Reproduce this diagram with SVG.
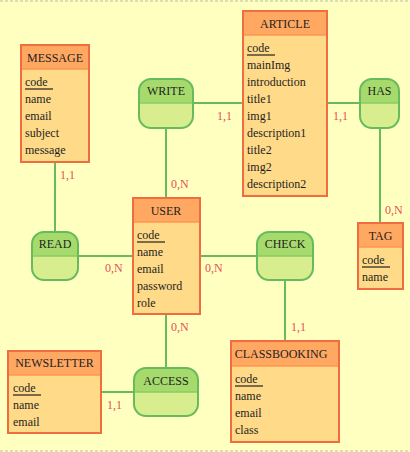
<svg xmlns="http://www.w3.org/2000/svg" width="410" height="452" viewBox="0 0 410 452">
<style>
.bg{fill:#FFFFC0}
.frame{stroke:#BBBBAA;stroke-width:1;stroke-dasharray:3,2;fill:none}
.ebody{fill:#FFDA88}
.ehead{fill:#FFA862}
.esep{stroke:#FF9650;stroke-width:1.5}
.eborder{fill:none;stroke:#F26C42;stroke-width:2}
.rbody{fill:#D8EE8E}
.rhead{fill:#A6DA6C}
.rsep{stroke:#88CC66;stroke-width:1.5}
.rborder{fill:none;stroke:#66BB5C;stroke-width:2}
.conn line{stroke:#66BB5C;stroke-width:2}
.t{font-family:"Liberation Serif","Times New Roman",serif;font-size:12px;fill:#1E1E1E}
.title{text-anchor:middle}
.card{font-family:"Liberation Serif","Times New Roman",serif;font-size:12px;fill:#E6505A}
.ul{stroke:#7A6A4A;stroke-width:2}
</style>
<rect class="bg" x="0" y="0" width="410" height="452"/>
<line class="frame" x1="0" y1="1" x2="410" y2="1"/>
<line class="frame" x1="0" y1="451" x2="410" y2="451"/>

<g id="connectors" class="conn">
<line x1="55" y1="163" x2="55" y2="231"/>
<line x1="166" y1="129" x2="166" y2="197"/>
<line x1="194" y1="103" x2="242" y2="103"/>
<line x1="328" y1="103" x2="359" y2="103"/>
<line x1="380" y1="129" x2="380" y2="222"/>
<line x1="79" y1="256" x2="132" y2="256"/>
<line x1="201" y1="256" x2="256" y2="256"/>
<line x1="285" y1="281" x2="285" y2="340"/>
<line x1="166" y1="315" x2="166" y2="367"/>
<line x1="102" y1="392" x2="133" y2="392"/>
<text class="card" x="60" y="179">1,1</text>
<text class="card" x="171" y="188">0,N</text>
<text class="card" x="217" y="120">1,1</text>
<text class="card" x="333" y="120">1,1</text>
<text class="card" x="385" y="214">0,N</text>
<text class="card" x="105" y="272">0,N</text>
<text class="card" x="205" y="272">0,N</text>
<text class="card" x="291" y="331">1,1</text>
<text class="card" x="171" y="331">0,N</text>
<text class="card" x="107" y="409">1,1</text>
</g>

<g id="MESSAGE">
<rect class="ebody" x="21" y="45" width="68" height="117"/>
<rect class="ehead" x="21" y="45" width="68" height="24"/>
<line class="esep" x1="21" y1="69" x2="89" y2="69"/>
<rect class="eborder" x="21" y="45" width="68" height="117"/>
<text class="t title" x="55" y="62">MESSAGE</text>
<text class="t" x="25" y="86">code </text>
<line class="ul" x1="25" y1="89" x2="53" y2="89"/>
<text class="t" x="25" y="103">name</text>
<text class="t" x="25" y="120">email</text>
<text class="t" x="25" y="137">subject</text>
<text class="t" x="25" y="154">message</text>
</g>

<g id="ARTICLE">
<rect class="ebody" x="243" y="11" width="84" height="185"/>
<rect class="ehead" x="243" y="11" width="84" height="24"/>
<line class="esep" x1="243" y1="35" x2="327" y2="35"/>
<rect class="eborder" x="243" y="11" width="84" height="185"/>
<text class="t title" x="285" y="28">ARTICLE</text>
<text class="t" x="247" y="52">code </text>
<line class="ul" x1="247" y1="55" x2="275" y2="55"/>
<text class="t" x="247" y="69">mainImg</text>
<text class="t" x="247" y="86">introduction</text>
<text class="t" x="247" y="103">title1</text>
<text class="t" x="247" y="120">img1</text>
<text class="t" x="247" y="137">description1</text>
<text class="t" x="247" y="154">title2</text>
<text class="t" x="247" y="171">img2</text>
<text class="t" x="247" y="188">description2</text>
</g>

<g id="TAG">
<rect class="ebody" x="358" y="223" width="45" height="66"/>
<rect class="ehead" x="358" y="223" width="45" height="24"/>
<line class="esep" x1="358" y1="247" x2="403" y2="247"/>
<rect class="eborder" x="358" y="223" width="45" height="66"/>
<text class="t title" x="380.5" y="240">TAG</text>
<text class="t" x="362" y="264">code </text>
<line class="ul" x1="362" y1="267" x2="390" y2="267"/>
<text class="t" x="362" y="281">name</text>
</g>

<g id="USER">
<rect class="ebody" x="133" y="198" width="67" height="116"/>
<rect class="ehead" x="133" y="198" width="67" height="24"/>
<line class="esep" x1="133" y1="222" x2="200" y2="222"/>
<rect class="eborder" x="133" y="198" width="67" height="116"/>
<text class="t title" x="166" y="215">USER</text>
<text class="t" x="137" y="239">code </text>
<line class="ul" x1="137" y1="242" x2="165" y2="242"/>
<text class="t" x="137" y="256">name</text>
<text class="t" x="137" y="273">email</text>
<text class="t" x="137" y="290">password</text>
<text class="t" x="137" y="307">role</text>
</g>

<g id="NEWSLETTER">
<rect class="ebody" x="8" y="351" width="93" height="82"/>
<rect class="ehead" x="8" y="351" width="93" height="24"/>
<line class="esep" x1="8" y1="375" x2="101" y2="375"/>
<rect class="eborder" x="8" y="351" width="93" height="82"/>
<text class="t title" x="54.5" y="367">NEWSLETTER</text>
<text class="t" x="13" y="392">code </text>
<line class="ul" x1="13" y1="395" x2="41" y2="395"/>
<text class="t" x="13" y="409">name</text>
<text class="t" x="13" y="426">email</text>
</g>

<g id="CLASSBOOKING">
<rect class="ebody" x="231" y="341" width="108" height="101"/>
<rect class="ehead" x="231" y="341" width="108" height="25"/>
<line class="esep" x1="231" y1="366" x2="339" y2="366"/>
<rect class="eborder" x="231" y="341" width="108" height="101"/>
<text class="t title" x="281" y="358">CLASSBOOKING</text>
<text class="t" x="235" y="383">code </text>
<line class="ul" x1="235" y1="386" x2="263" y2="386"/>
<text class="t" x="235" y="400">name</text>
<text class="t" x="235" y="417">email</text>
<text class="t" x="235" y="434">class</text>
</g>

<g id="WRITE">
<rect class="rbody" x="139" y="79" width="54" height="49" rx="12"/>
<path class="rhead" d="M139,103 V91 A12,12 0 0 1 151,79 H181 A12,12 0 0 1 193,91 V103 Z"/>
<line class="rsep" x1="139" y1="103" x2="193" y2="103"/>
<rect class="rborder" x="139" y="79" width="54" height="49" rx="12"/>
<text class="t title" x="166" y="95">WRITE</text>
</g>

<g id="HAS">
<rect class="rbody" x="360" y="79" width="39" height="49" rx="12"/>
<path class="rhead" d="M360,103 V91 A12,12 0 0 1 372,79 H387 A12,12 0 0 1 399,91 V103 Z"/>
<line class="rsep" x1="360" y1="103" x2="399" y2="103"/>
<rect class="rborder" x="360" y="79" width="39" height="49" rx="12"/>
<text class="t title" x="379.5" y="95">HAS</text>
</g>

<g id="READ">
<rect class="rbody" x="32" y="232" width="46" height="48" rx="12"/>
<path class="rhead" d="M32,256 V244 A12,12 0 0 1 44,232 H66 A12,12 0 0 1 78,244 V256 Z"/>
<line class="rsep" x1="32" y1="256" x2="78" y2="256"/>
<rect class="rborder" x="32" y="232" width="46" height="48" rx="12"/>
<text class="t title" x="55" y="248">READ</text>
</g>

<g id="CHECK">
<rect class="rbody" x="257" y="232" width="56" height="48" rx="12"/>
<path class="rhead" d="M257,256 V244 A12,12 0 0 1 269,232 H301 A12,12 0 0 1 313,244 V256 Z"/>
<line class="rsep" x1="257" y1="256" x2="313" y2="256"/>
<rect class="rborder" x="257" y="232" width="56" height="48" rx="12"/>
<text class="t title" x="285" y="248">CHECK</text>
</g>

<g id="ACCESS">
<rect class="rbody" x="134" y="368" width="64" height="48" rx="12"/>
<path class="rhead" d="M134,392 V380 A12,12 0 0 1 146,368 H186 A12,12 0 0 1 198,380 V392 Z"/>
<line class="rsep" x1="134" y1="392" x2="198" y2="392"/>
<rect class="rborder" x="134" y="368" width="64" height="48" rx="12"/>
<text class="t title" x="166" y="385">ACCESS</text>
</g>
</svg>
